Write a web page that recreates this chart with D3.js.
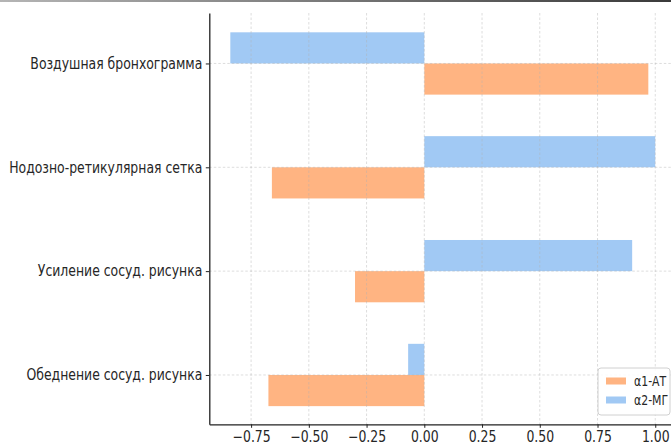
<!DOCTYPE html>
<html>
<head>
<meta charset="utf-8">
<script src="https://cdn.jsdelivr.net/npm/d3@7"></script>
<style>
html,body{margin:0;padding:0;background:#fff;overflow:hidden;}
svg{display:block;}
text{font-family:"DejaVu Sans",sans-serif;fill:#262626;}
</style>
</head>
<body>
<svg id="chart" width="671" height="446"></svg>
<script>
// Data (top-to-bottom order of categories as shown)
const categories = ["Воздушная бронхограмма", "Нодозно-ретикулярная сетка", "Усиление сосуд. рисунка", "Обеднение сосуд. рисунка"];
const seriesNames = ["α1-АТ", "α2-МГ"];
const alpha1AT = [0.97, -0.66, -0.30, -0.675];
const alpha2MG = [-0.84, 1.00, 0.90, -0.07];
const xTicks = [-0.75, -0.50, -0.25, 0.00, 0.25, 0.50, 0.75, 1.00];
const colors = ["#ffb482", "#a1c9f4"];

const svg = d3.select("#chart");
const W = 671, H = 446;
const plot = {left: 209.3, right: 676.5, top: 13, bottom: 424.3};
const squeeze = 0.83;

// y position: category index from bottom
const n = categories.length;
const yPos = categories.map((c, i) => n - 1 - i);

const x = d3.scaleLinear().domain([-0.931, 1.092]).range([plot.left, plot.right]);
const y = d3.scaleLinear().domain([-0.475, 3.486]).range([plot.bottom, plot.top]);
const barH = 0.3;

// top artifact line
const defs = svg.append("defs");
const grad = defs.append("linearGradient").attr("id", "topg").attr("x1", "0").attr("x2", "1");
grad.append("stop").attr("offset", "0").attr("stop-color", "#b5b5b5");
grad.append("stop").attr("offset", "1").attr("stop-color", "#3a3a3a");
svg.append("rect").attr("x", 0).attr("y", 0).attr("width", W).attr("height", 2).attr("fill", "url(#topg)");

const g = svg.append("g");

// bars
const rows = categories.map((c, i) => ({c, pos: yPos[i], a1: alpha1AT[i], a2: alpha2MG[i]}));
g.selectAll("rect.a1").data(rows).join("rect").attr("class", "a1")
  .attr("x", d => x(Math.min(0, d.a1)))
  .attr("width", d => Math.abs(x(d.a1) - x(0)))
  .attr("y", d => y(d.pos))
  .attr("height", d => y(d.pos - barH) - y(d.pos))
  .attr("fill", colors[0]);
g.selectAll("rect.a2").data(rows).join("rect").attr("class", "a2")
  .attr("x", d => x(Math.min(0, d.a2)))
  .attr("width", d => Math.abs(x(d.a2) - x(0)))
  .attr("y", d => y(d.pos + barH))
  .attr("height", d => y(d.pos) - y(d.pos + barH))
  .attr("fill", colors[1]);

// grid (drawn over bars, faint)
const grid = g.append("g").attr("stroke", "#b0b0b0").attr("stroke-opacity", 0.55).attr("stroke-width", 0.8).attr("stroke-dasharray", "2.5,2");
grid.selectAll("line.vx").data(xTicks).join("line")
  .attr("x1", d => x(d)).attr("x2", d => x(d)).attr("y1", plot.top).attr("y2", plot.bottom);
grid.selectAll("line.hy").data(yPos).join("line")
  .attr("y1", d => y(d)).attr("y2", d => y(d)).attr("x1", plot.left).attr("x2", plot.right);

// axes
const xAxis = d3.axisBottom(x).tickValues(xTicks).tickFormat(d => d3.format(".2f")(d).replace("-", "−")).tickSize(3.5).tickSizeOuter(0).tickPadding(4);
const gx = svg.append("g").attr("transform", `translate(0,${plot.bottom})`).call(xAxis);
gx.select(".domain").attr("stroke", "#222").attr("stroke-width", 1.3);
gx.selectAll(".tick line").attr("stroke", "#222").attr("stroke-width", 1);
gx.selectAll(".tick text").attr("font-size", 15).attr("fill", "#262626").attr("font-family", "DejaVu Sans")
  .attr("transform", `scale(${squeeze},1)`);

const yAxis = d3.axisLeft(y).tickValues(yPos).tickFormat((d, i) => categories[i]).tickSize(3.5).tickSizeOuter(0).tickPadding(3.5);
const gy = svg.append("g").attr("transform", `translate(${plot.left},0)`).call(yAxis);
gy.select(".domain").attr("stroke", "#222").attr("stroke-width", 1.3);
gy.selectAll(".tick line").attr("stroke", "#222").attr("stroke-width", 1);
gy.selectAll(".tick text").attr("font-size", 15).attr("fill", "#262626").attr("font-family", "DejaVu Sans")
  .attr("x", -7 / squeeze).attr("transform", `scale(${squeeze},1)`);

// legend
const lg = svg.append("g").attr("transform", "translate(598,368)");
lg.append("rect").attr("x", 0).attr("y", 0).attr("width", 72).attr("height", 47).attr("rx", 3)
  .attr("fill", "#fff").attr("fill-opacity", 0.85).attr("stroke", "#d0d0d0").attr("stroke-width", 1);
seriesNames.forEach((s, i) => {
  const yy = 13 + i * 19;
  lg.append("rect").attr("x", 8).attr("y", yy - 3.5).attr("width", 20).attr("height", 7).attr("fill", colors[i]);
  lg.append("g").attr("transform", `translate(36,${yy}) scale(0.78,1)`)
    .append("text").attr("x", 0).attr("y", 0).attr("dy", "0.35em").attr("font-size", 14).text(s);
});
</script>
</body>
</html>
